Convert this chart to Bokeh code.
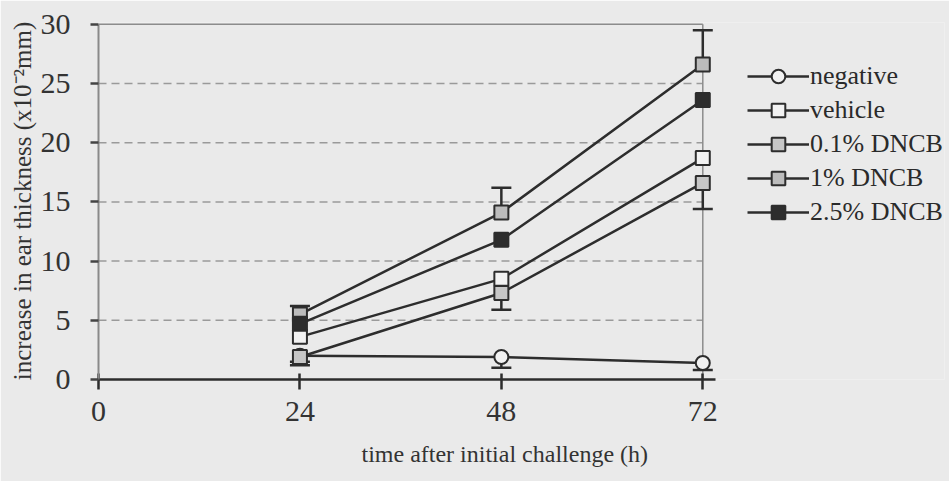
from bokeh.plotting import figure
from bokeh.models import Range1d, FixedTicker, Legend, LegendItem, Title
from bokeh.embed import file_html
from bokeh.resources import INLINE

# time points (h) and mean increase in ear thickness (x10^-2 mm)
hours = [24, 48, 72]
negative = [2.0, 1.9, 1.4]
vehicle = [3.6, 8.5, 18.7]
dncb_0_1 = [1.9, 7.3, 16.6]
dncb_1 = [5.5, 14.1, 26.6]
dncb_2_5 = [4.7, 11.8, 23.6]

# one-sided error bars (down for the lower groups, up for the top group)
negative_sd = [0.5, 0.9, 0.6]
dncb_0_1_sd = [0.7, 1.4, 2.2]
dncb_1_sd = [0.7, 2.1, 2.9]

x_ticks = [0, 24, 48, 72]
y_ticks = [0, 5, 10, 15, 20, 25, 30]
grid_levels = [5, 10, 15, 20, 25]
x_max = 72
y_max = 30

FONT = "Liberation Serif"
INK = "#2d2d2d"
FRAME = "#8c8c8c"
PAPER = "#eaeaea"

# the frame runs on to the right edge so the legend can sit inside it;
# axis line and guide lines stop at the data span
p = figure(width=949, height=481, x_range=Range1d(0, 100.8), y_range=Range1d(0, 30.15),
           output_backend="svg", toolbar_location=None,
           min_border_left=98, min_border_right=5, min_border_top=22, min_border_bottom=102)

p.background_fill_color = PAPER
p.border_fill_color = PAPER
p.outline_line_color = None
p.xgrid.visible = False
p.ygrid.visible = False

# dashed horizontal guide lines between the axis and the last time point
p.segment(x0=[0] * len(grid_levels), y0=grid_levels,
          x1=[x_max] * len(grid_levels), y1=grid_levels,
          line_color="#9a9a9a", line_width=1.5, line_dash="8 5")

# top and right frame lines end at the last time point
p.segment(x0=[0, x_max], y0=[y_max, 0], x1=[x_max, x_max], y1=[y_max, y_max],
          line_color=FRAME, line_width=1.5)

# x axis
xa = p.xaxis[0]
xa.ticker = FixedTicker(ticks=x_ticks)
xa.bounds = (0, 73.5)
xa.axis_line_color = INK
xa.axis_line_width = 2.5
xa.major_tick_line_color = INK
xa.major_tick_line_width = 2.5
xa.major_tick_in = 6
xa.major_tick_out = 10
xa.minor_tick_line_color = None
xa.major_label_text_font = FONT
xa.major_label_text_font_size = "30px"
xa.major_label_text_color = "#333333"
xa.major_label_standoff = 12

# y axis
ya = p.yaxis[0]
ya.ticker = FixedTicker(ticks=y_ticks)
ya.bounds = (0, y_max)
ya.axis_line_color = "#8a8a8a"
ya.axis_line_width = 2
ya.major_tick_line_color = "#444444"
ya.major_tick_line_width = 2.5
ya.major_tick_in = 0
ya.major_tick_out = 8
ya.minor_tick_line_color = None
ya.major_label_text_font = FONT
ya.major_label_text_font_size = "30px"
ya.major_label_text_color = "#333333"
ya.major_label_standoff = 20
ya.axis_label = "increase in ear thickness (x10\u207b\u00b2mm)"
ya.axis_label_text_font = FONT
ya.axis_label_text_font_size = "25px"
ya.axis_label_text_font_style = "normal"
ya.axis_label_text_color = "#333333"
ya.axis_label_standoff = 2

# error bars (drawn first so markers sit on top)
def err_bar(xs, ys, sds, up):
    tips = [y + s if up else y - s for y, s in zip(ys, sds)]
    p.segment(x0=xs, y0=ys, x1=xs, y1=tips, line_color=INK, line_width=2.5)
    p.scatter(x=xs, y=tips, marker="dash", size=20, line_color=INK, line_width=2.5)

err_bar(hours, negative, negative_sd, up=False)
err_bar(hours, dncb_0_1, dncb_0_1_sd, up=False)
err_bar(hours, dncb_1, dncb_1_sd, up=True)

series = [
    ("negative", negative, "circle", "#f2f2f2"),
    ("vehicle", vehicle, "square", "#f2f2f2"),
    ("0.1% DNCB", dncb_0_1, "square", "#c6c6c6"),
    ("1% DNCB", dncb_1, "square", "#bcbcbc"),
    ("2.5% DNCB", dncb_2_5, "square", INK),
]

items = []
for name, ys, marker, fill in series:
    ln = p.line(hours, ys, line_color=INK, line_width=2.5)
    mk = p.scatter(hours, ys, marker=marker, size=14, fill_color=fill,
                   line_color=INK, line_width=2)
    items.append(LegendItem(label=name, renderers=[ln, mk]))

legend = Legend(items=items, location=(649, 150), orientation="vertical",
                glyph_width=62, glyph_height=34, label_height=34, spacing=0,
                padding=0, margin=0, label_standoff=1,
                label_text_font=FONT, label_text_font_size="26px",
                label_text_color="#2a2a2a", label_text_baseline="middle",
                border_line_alpha=0, background_fill_alpha=0)
p.add_layout(legend)

p.add_layout(Title(text="time after initial challenge (h)", align="left", offset=263,
                   standoff=30, text_font=FONT, text_font_size="24px",
                   text_font_style="normal", text_color="#333333"), "below")

open("out.html", "w").write(file_html(p, INLINE))
